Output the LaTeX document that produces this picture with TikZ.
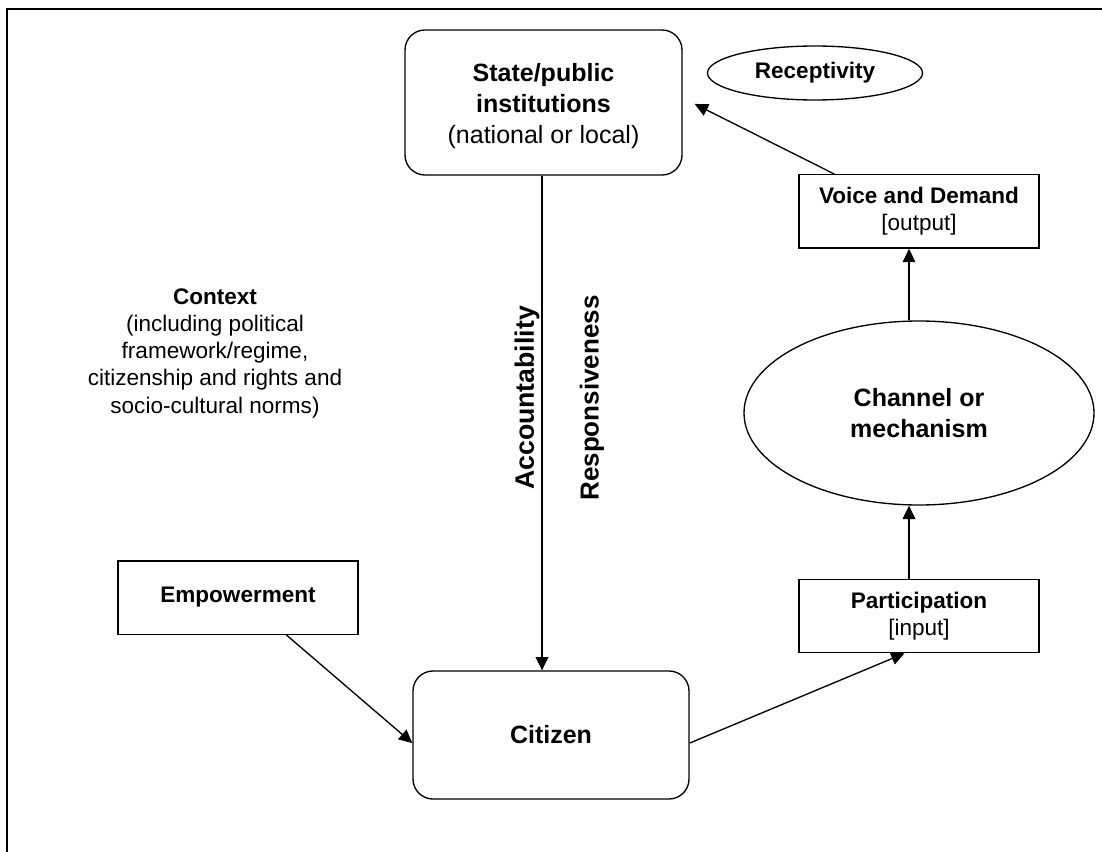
\documentclass[tikz,border=0pt]{standalone}
\usepackage{fontspec}
\setmainfont{Liberation Sans}
\usetikzlibrary{calc,arrows.meta,shapes.geometric,positioning}
\newcommand\SmallFont{\fontsize{16.9}{20.3}\selectfont}
\newcommand\LargeFont{\fontsize{18.75}{23}\selectfont}
\newcommand\BoxWidth{180pt}
\newcommand\BoxHeight{55pt}
\tikzstyle{plainbox}=[rectangle,draw,line width=1pt,align=center,inner sep=0pt,
                     minimum width=\BoxWidth,minimum height=\BoxHeight,font=\SmallFont]
\tikzstyle{roundbox}=[rectangle,draw,line width=1pt,rounded corners=15pt,inner sep=0pt,
                     align=center,font=\LargeFont]
\tikzstyle{oval}=[ellipse,draw,line width=1pt,inner sep=0pt,align=center]
\tikzstyle{sidelabel}=[rotate=90,inner sep=0pt,font=\bfseries]
\tikzstyle{arr}=[line width=1pt,-{Triangle[length=10pt,width=9.5pt]}]

\begin{document}
\begin{tikzpicture}[x=0.75pt,y=-0.75pt]
      \useasboundingbox (0,0) rectangle (1102,852);
      \draw[line width=1.5pt] (7,852) -- (7,9) -- (1102,9);
      % state and citizen
      \node[roundbox,minimum width=207.75pt,minimum height=108.75pt] (state) at (543.5,102.5) {};
      \node[font=\LargeFont,align=center] (statetext) at (543.5,106) {\textbf{State/public}\\\textbf{institutions}\\(national or local)};
      \node[roundbox,minimum width=207pt,minimum height=96pt] (citizen) at (551,735) {\textbf{Citizen}};
      \node[oval,minimum width=161.25pt,minimum height=40.5pt,font=\SmallFont\bfseries] (recept) at (815,73) {Receptivity};
      % right column
      \node[plainbox] (voice) at (919,211.5) {\textbf{Voice and Demand}\\{}[output]};
      \node[oval,minimum width=262.5pt,minimum height=138pt,font=\LargeFont\bfseries] (channel) at (919,413) {Channel or\\mechanism};
      \node[plainbox] (partic) at (919,616) {\textbf{Participation}\\{}[input]};
      % left side
      \node[plainbox] (empow) at (238,597.5) {\textbf{Empowerment}};
      \node[align=center,font=\SmallFont,text depth=0pt] (context) at (215,351) {\textbf{Context}\\(including political\\framework/regime,\\citizenship and rights and\\socio-cultural norms)};
      \node[sidelabel,font=\fontsize{20}{24}\selectfont\bfseries] (acc) at (527,398) {Accountability};
      \node[sidelabel,font=\fontsize{19.5}{24}\selectfont\bfseries] (resp) at (592,398) {Responsiveness};
      % connectors
      \draw[arr] (state.south -| 542,0) -- (citizen.north -| 542,0);
      \draw[arr] ($(empow.south west)!0.7!(empow.south east)$) -- ($(citizen.north west)!0.5625!(citizen.south west)$);
      \draw[arr] ($(citizen.north east)!0.5625!(citizen.south east)$) -- ($(partic.south west)!0.44!(partic.south east)$);
      \draw[arr] ([xshift=-7.5pt]partic.north) -- ([xshift=-7.5pt]channel.south);
      \draw[arr] ([xshift=-7.5pt]channel.north) -- ([xshift=-7.5pt]voice.south);
      \draw[arr] ($(voice.north west)!0.15!(voice.north east)$) -- ($(state.north east)!0.51!(state.south east)+(12,0)$);
\end{tikzpicture}
\end{document}
